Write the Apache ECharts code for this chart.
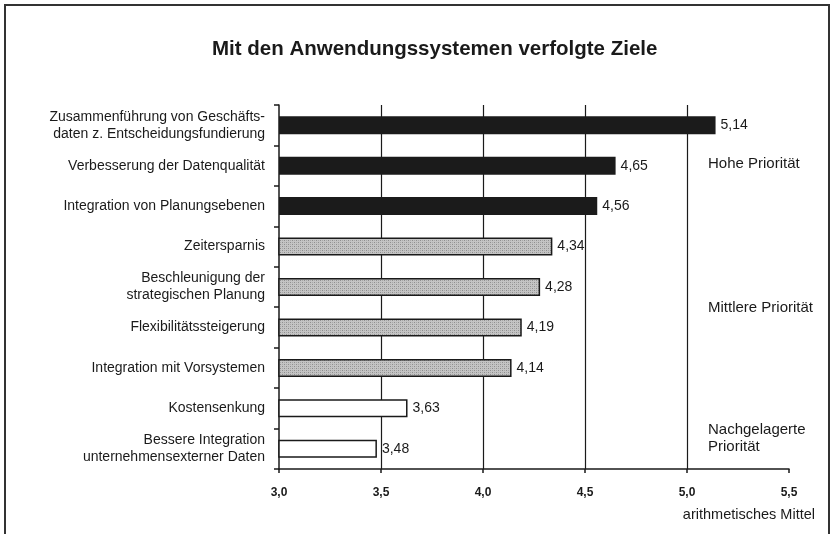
<!DOCTYPE html>
<html>
<head>
<meta charset="utf-8">
<style>
  html, body { margin: 0; padding: 0; background: #fff; }
  #main { width: 832px; height: 534px; }
</style>
<script src="https://cdn.jsdelivr.net/npm/echarts@6/dist/echarts.min.js"></script>
</head>
<body>
<div id="main"></div>
<script>
// Daten
var categories = [
  'Zusammenführung von Geschäfts-\ndaten z. Entscheidungsfundierung',
  'Verbesserung der Datenqualität',
  'Integration von Planungsebenen',
  'Zeitersparnis',
  'Beschleunigung der\nstrategischen Planung',
  'Flexibilitätssteigerung',
  'Integration mit Vorsystemen',
  'Kostensenkung',
  'Bessere Integration\nunternehmensexterner Daten'
]
var values = [5.14, 4.65, 4.56, 4.34, 4.28, 4.19, 4.14, 3.63, 3.48]
// 0 = hohe, 1 = mittlere, 2 = nachgelagerte Priorität
var priority = [0, 0, 0, 1, 1, 1, 1, 2, 2]
var priorityLabels = ['Hohe Priorität', 'Mittlere Priorität', 'Nachgelagerte\nPriorität']
var xTicks = [3.0, 3.5, 4.0, 4.5, 5.0, 5.5]

var font = "'Liberation Sans', Arial, sans-serif"

// graues Punktraster
function makePattern() {
  var c = document.createElement('canvas')
  c.width = 4
  c.height = 4
  var ctx = c.getContext('2d')
  ctx.fillStyle = '#c4c4c4'
  ctx.fillRect(0, 0, 4, 4)
  ctx.fillStyle = '#8e8e8e'
  ctx.fillRect(0, 0, 1, 1)
  ctx.fillRect(2, 2, 1, 1)
  ctx.fillStyle = '#a8a8a8'
  ctx.fillRect(2, 0, 1, 1)
  ctx.fillRect(0, 2, 1, 1)
  return c
}
var grayFill = { image: makePattern(), repeat: 'repeat' }
var fills = ['#1b1b1b', grayFill, '#ffffff']

var fmt = function (v) { return v.toFixed(2).replace('.', ',') }

var myChart = echarts.init(document.getElementById('main'))
myChart.setOption({
  backgroundColor: '#fff',
  animation: false,
  title: {
    text: 'Mit den Anwendungssystemen verfolgte Ziele',
    left: 207,
    top: 34,
    textStyle: { fontFamily: font, fontSize: 20.5, fontWeight: 'bold', color: '#1a1a1a' }
  },
  grid: { left: 279, right: 43, top: 105, bottom: 65 },
  xAxis: {
    type: 'value',
    min: xTicks[0],
    max: xTicks[xTicks.length - 1],
    interval: 0.5,
    axisLine: { show: true, lineStyle: { color: '#1a1a1a', width: 1.5 } },
    axisTick: { show: true, length: 4, lineStyle: { color: '#1a1a1a', width: 1.5 } },
    axisLabel: {
      margin: 18,
      fontFamily: font,
      fontSize: 12,
      fontWeight: 'bold',
      color: '#1a1a1a',
      formatter: function (v) { return v.toFixed(1).replace('.', ',') }
    },
    splitLine: {
      show: true,
      showMinLine: false,
      showMaxLine: false,
      lineStyle: { color: '#1a1a1a', width: 1.2 }
    }
  },
  yAxis: {
    type: 'category',
    inverse: true,
    data: categories,
    axisLine: { show: true, lineStyle: { color: '#1a1a1a', width: 1.5 } },
    axisTick: { show: true, alignWithLabel: false, length: 5, lineStyle: { color: '#1a1a1a', width: 1.5 } },
    axisLabel: {
      margin: 14,
      fontFamily: font,
      fontSize: 14,
      lineHeight: 17,
      color: '#1a1a1a',
      align: 'right'
    }
  },
  series: [{
    type: 'bar',
    barWidth: 18,
    data: values.map(function (v, i) {
      return {
        value: v,
        itemStyle: {
          color: fills[priority[i]],
          borderColor: '#1a1a1a',
          borderWidth: priority[i] === 0 ? 0 : 1.5
        }
      }
    }),
    label: {
      show: true,
      position: 'right',
      distance: 5,
      fontFamily: font,
      fontSize: 14,
      color: '#1a1a1a',
      formatter: function (p) { return fmt(p.value) }
    }
  }],
  graphic: [
    {
      type: 'rect',
      shape: { x: 5, y: 5, width: 824, height: 560 },
      style: { fill: 'none', stroke: '#333', lineWidth: 2 },
      silent: true
    },
    {
      type: 'text', left: 708, top: 156,
      style: { text: priorityLabels[0], font: '15px ' + font, fill: '#1a1a1a' }
    },
    {
      type: 'text', left: 708, top: 300,
      style: { text: priorityLabels[1], font: '15px ' + font, fill: '#1a1a1a' }
    },
    {
      type: 'text', left: 708, top: 421,
      style: { text: priorityLabels[2], font: '15px ' + font, fill: '#1a1a1a', lineHeight: 17 }
    },
    {
      type: 'text', right: 17, top: 507,
      style: { text: 'arithmetisches Mittel', font: '14.5px ' + font, fill: '#1a1a1a' }
    }
  ]
})
</script>
</body>
</html>
